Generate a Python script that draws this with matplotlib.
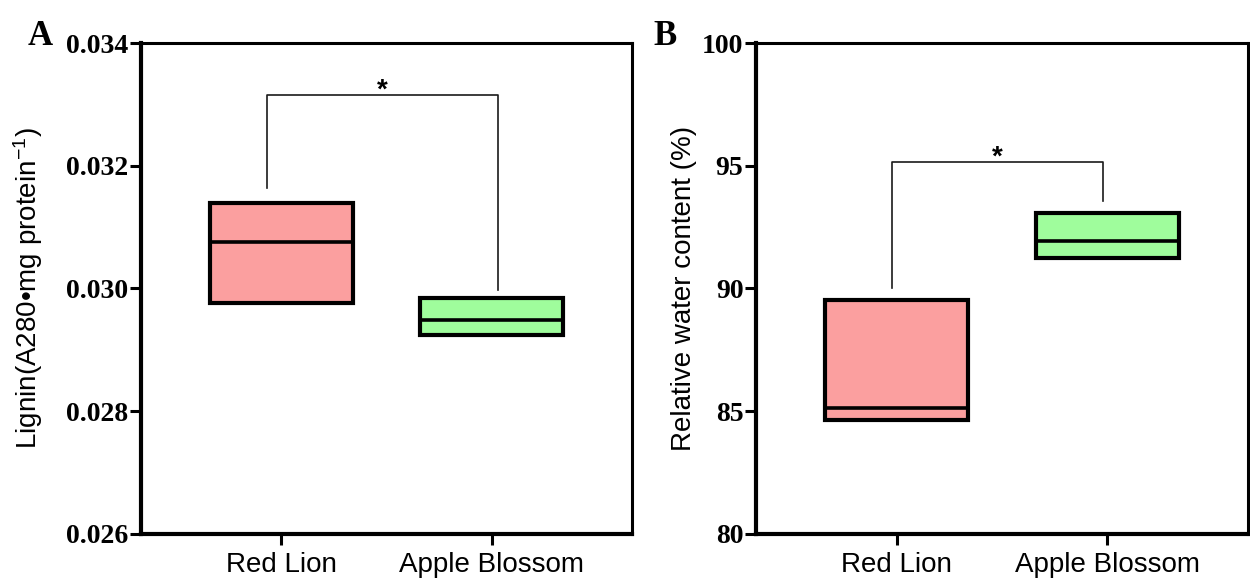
import numpy as np
import matplotlib
matplotlib.use('Agg')
import matplotlib.pyplot as plt

# data
categories = ['Red Lion', 'Apple Blossom']

lignin_low = [0.02976, 0.02924]
lignin_med = [0.03076, 0.02948]
lignin_high = [0.03140, 0.02984]

rwc_low = [84.65, 91.26]
rwc_med = [85.14, 91.94]
rwc_high = [89.55, 93.08]

# significance brackets: [left leg end, top, right leg end]
lignin_bracket = [0.03163, 0.03315, 0.02998]
rwc_bracket = [90.04, 95.14, 93.56]
lignin_bracket_x = [-0.067, 1.03]
rwc_bracket_x = [-0.024, 0.98]

box_colors = ['#fb9f9f', '#9ffd9c']

sans = 'Liberation Sans'
serif = 'Liberation Serif'

# mathtext (used for the superscript) should use the same sans font
plt.rcParams['mathtext.fontset'] = 'custom'
plt.rcParams['mathtext.rm'] = sans
plt.rcParams['mathtext.it'] = sans + ':italic'
plt.rcParams['mathtext.bf'] = sans + ':bold'

fig = plt.figure(figsize=(12.5, 5.82), dpi=100)
axA = fig.add_axes([0.1128, 0.0825, 0.3928, 0.8436])
axB = fig.add_axes([0.6048, 0.0825, 0.3936, 0.8436])


def draw_panel(ax, low, med, high, bracket, bx, ylim, yticks, fmt, ylabel, label_x):
    x = np.arange(len(categories))
    low = np.array(low)
    high = np.array(high)
    ax.bar(x, high - low, bottom=low, width=0.68, color=box_colors,
           edgecolor='black', linewidth=3, zorder=2)
    for i in range(len(x)):
        ax.hlines(med[i], x[i] - 0.34, x[i] + 0.34, color='black', linewidth=2.6, zorder=3)
    # bracket
    ax.plot([bx[0], bx[0], bx[1], bx[1]], [bracket[0], bracket[1], bracket[1], bracket[2]],
            color='#1a1a1a', linewidth=1.2, zorder=2)
    ax.annotate('*', xy=((bx[0] + bx[1]) / 2, bracket[1]), xytext=(0, -1.5),
                textcoords='offset points', ha='center', va='baseline',
                fontsize=20, fontweight='bold', family=sans)
    ax.set_xlim(-0.668, 1.668)
    ax.set_ylim(*ylim)
    ax.set_yticks(yticks)
    ax.set_yticklabels([fmt % v for v in yticks], family=serif, fontweight='bold', fontsize=20)
    ax.set_xticks(x)
    ax.set_xticklabels(categories, family=sans, fontsize=20)
    ax.tick_params(axis='y', length=8, width=2.2, pad=1)
    ax.tick_params(axis='x', length=8, width=2.2, pad=5)
    ax.spines['left'].set_linewidth(3)
    ax.spines['bottom'].set_linewidth(3)
    ax.spines['top'].set_linewidth(2.2)
    ax.spines['right'].set_linewidth(2.2)
    ax.set_ylabel(ylabel, family=sans, fontsize=20)
    ax.yaxis.set_label_coords(label_x, 0.5)


draw_panel(axA, lignin_low, lignin_med, lignin_high, lignin_bracket, lignin_bracket_x,
           (0.026, 0.034), [0.026, 0.028, 0.030, 0.032, 0.034], '%.3f',
           'Lignin(A280\u2022mg protein$^{-1}$)', -0.195)
draw_panel(axB, rwc_low, rwc_med, rwc_high, rwc_bracket, rwc_bracket_x,
           (80, 100), [80, 85, 90, 95, 100], '%d',
           'Relative water content (%)', -0.12)

fig.text(0.022, 0.923, 'A', family=serif, fontweight='bold', fontsize=25, va='baseline')
fig.text(0.523, 0.923, 'B', family=serif, fontweight='bold', fontsize=25, va='baseline')

fig.savefig('out.png', dpi=100)
